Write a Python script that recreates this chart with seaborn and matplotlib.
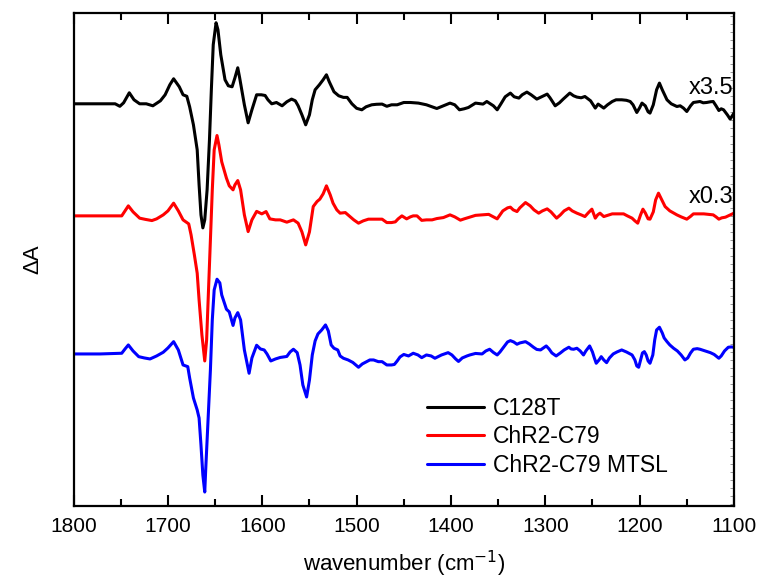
import numpy as np
import pandas as pd
import matplotlib
matplotlib.use('Agg')
import matplotlib.pyplot as plt
import seaborn as sns
from matplotlib.ticker import MultipleLocator

# ------------------------------------------------------------
# data (wavenumber in cm-1, dA in a.u.,
# each trace relative to its own baseline)
# ------------------------------------------------------------
wn_c128t = [1800, 1772, 1756, 1751, 1747, 1741, 1736, 1730, 1723, 1716, 1708, 1703, 1698, 1694, 1688,
            1684, 1680, 1677, 1673, 1669, 1667, 1665, 1663, 1661, 1658.5, 1656, 1654, 1652, 1649, 1647,
            1644, 1639.5, 1636, 1632, 1629, 1626, 1624, 1619, 1615, 1611, 1606, 1601, 1597, 1594, 1590,
            1585, 1579, 1574, 1569, 1565, 1562, 1558, 1554, 1550, 1547, 1544, 1539.5, 1535.5, 1532, 1529,
            1524, 1519, 1514, 1510, 1505, 1500, 1494.5, 1490, 1484, 1479, 1473, 1468, 1463, 1457, 1450,
            1443, 1434.5, 1426, 1420, 1415, 1408, 1401, 1396, 1391, 1386, 1381.5, 1374, 1366, 1362, 1355,
            1351, 1347, 1342.5, 1337, 1333, 1328, 1324.5, 1319.5, 1315, 1309, 1304, 1298, 1295, 1289.5, 1285,
            1281, 1274, 1270, 1266.5, 1262, 1258, 1252, 1247, 1244, 1238, 1234, 1229, 1225, 1219, 1214,
            1210, 1207, 1203, 1200, 1197.5, 1194, 1191, 1189, 1185.5, 1182, 1179, 1176, 1171, 1166.5, 1160.5,
            1157, 1153.5, 1150, 1146, 1143, 1136, 1132.6, 1129, 1125, 1122, 1119, 1116, 1113.5, 1111, 1107,
            1104, 1100]
da_c128t = [0, 0, 0, -0.025, 0.01, 0.11, 0.04, 0, 0, -0.02, 0.03, 0.09, 0.19, 0.25, 0.17,
            0.09, 0.075, -0.03, -0.21, -0.46, -0.81, -1.11, -1.24, -1.16, -0.86, -0.36, 0.14, 0.59, 0.81, 0.74,
            0.49, 0.24, 0.18, 0.17, 0.26, 0.36, 0.26, -0.01, -0.19, -0.06, 0.09, 0.09, 0.083, 0.04, 0,
            0.013, -0.02, 0.02, 0.047, 0.03, -0.02, -0.11, -0.21, -0.11, 0.04, 0.14, 0.19, 0.24, 0.29, 0.22,
            0.12, 0.08, 0.064, 0.064, 0, -0.045, -0.06, -0.03, -0.01, -0.005, -0.003, -0.025, -0.01, -0.01, 0.013,
            0.013, 0.007, -0.01, -0.03, -0.047, -0.02, 0.007, -0.01, -0.06, -0.05, -0.037, 0.007, -0.003, 0.023, -0.02,
            -0.06, 0, 0.07, 0.107, 0.07, 0.057, 0.09, 0.117, 0.09, 0.047, 0.07, 0.097, 0.06, -0.02, 0.01,
            0.047, 0.107, 0.08, 0.067, 0.06, 0.073, 0.03, -0.043, -0.003, -0.043, -0.01, 0.023, 0.04, 0.04, 0.035,
            0.023, -0.01, -0.087, -0.04, 0.007, -0.02, -0.08, -0.093, -0.01, 0.14, 0.207, 0.14, 0.04, 0, -0.027,
            -0.02, -0.043, -0.077, -0.02, 0.013, 0.023, 0.01, 0.013, 0.02, 0.023, -0.02, -0.067, -0.05, -0.06, -0.11,
            -0.153, -0.093]

wn_c79 = [1800, 1772, 1749, 1745.5, 1742, 1737, 1730, 1724, 1717, 1712, 1705, 1700, 1694, 1689, 1684,
          1678, 1675.5, 1672, 1669, 1667, 1664, 1661, 1659, 1657, 1655, 1653, 1651, 1648, 1646, 1643,
          1638, 1635, 1631, 1629, 1626, 1623, 1619, 1615, 1611, 1606, 1600.5, 1596, 1592, 1586, 1581,
          1574, 1567, 1562, 1558, 1554, 1550, 1546, 1542, 1539, 1535.5, 1532, 1528, 1525, 1521, 1517.5,
          1512, 1508, 1503, 1498, 1493, 1487.5, 1480, 1473, 1468, 1463, 1459, 1456, 1452, 1449.6, 1447,
          1443, 1440, 1436, 1431, 1426, 1420, 1415, 1408, 1401, 1396, 1390, 1386, 1381.5, 1374, 1367,
          1360, 1355, 1351, 1348, 1345, 1340, 1337, 1334, 1330, 1327, 1321, 1316, 1312, 1307, 1303,
          1298, 1294, 1288, 1284, 1280, 1275, 1271.5, 1266.5, 1262, 1258, 1254.5, 1250.6, 1247, 1244.5, 1242,
          1238, 1234, 1229, 1224, 1217, 1213, 1208, 1205, 1202, 1199, 1196.5, 1194, 1191, 1189, 1185.5,
          1183, 1180, 1177, 1173, 1168, 1160.5, 1156, 1150, 1146, 1143, 1138, 1132, 1127, 1122, 1119,
          1116, 1113, 1109, 1105, 1100]
da_c79 = [0, 0, 0, 0.05, 0.10, 0.04, -0.023, -0.035, -0.047, -0.03, 0.01, 0.05, 0.127, 0.05, -0.04,
          -0.08, -0.19, -0.39, -0.573, -0.84, -1.19, -1.45, -1.24, -0.74, -0.24, 0.26, 0.66, 0.803, 0.71, 0.54,
          0.377, 0.30, 0.26, 0.31, 0.353, 0.26, 0.01, -0.157, -0.04, 0.045, 0.02, 0.043, -0.03, -0.04, -0.04,
          -0.063, -0.04, -0.073, -0.16, -0.29, -0.16, 0.093, 0.143, 0.167, 0.22, 0.30, 0.21, 0.127, 0.06, 0.027,
          0.033, 0, -0.04, -0.073, -0.05, -0.033, -0.033, -0.033, -0.067, -0.067, -0.06, -0.03, 0, -0.015, -0.03,
          -0.01, 0, 0, -0.045, -0.04, -0.04, -0.027, -0.017, 0.01, -0.01, -0.043, -0.03, -0.017, 0.005, 0.01,
          0.015, -0.01, -0.03, 0.01, 0.05, 0.08, 0.087, 0.06, 0.043, 0.08, 0.133, 0.10, 0.06, 0.027, 0.05,
          0.07, 0.04, -0.023, 0.01, 0.05, 0.077, 0.05, 0.027, 0.01, -0.007, 0.03, 0.067, -0.023, 0.01, 0.027,
          -0.007, 0.005, 0.02, 0.02, 0.02, 0, -0.023, -0.05, -0.073, 0.01, 0.067, 0.03, -0.03, -0.033, 0.04,
          0.16, 0.227, 0.17, 0.093, 0.05, 0.01, -0.01, -0.033, -0.005, 0.02, 0.02, 0.02, 0.015, 0.01, -0.01,
          -0.033, -0.02, -0.013, 0.005, 0.027]

wn_mtsl = [1800, 1772, 1749, 1745.5, 1742, 1737, 1731, 1725, 1719, 1712, 1705, 1700, 1694, 1689, 1684,
           1679, 1677, 1673, 1669, 1667, 1665, 1663, 1661, 1660, 1657.5, 1655, 1653, 1651, 1648, 1645,
           1643, 1638, 1635, 1631, 1629, 1626, 1623, 1619, 1614, 1611, 1606, 1602, 1598, 1595, 1591,
           1586, 1581, 1574, 1570.5, 1567, 1563, 1560, 1557, 1553, 1550, 1547, 1544, 1541, 1537, 1533,
           1530, 1527, 1524, 1520, 1517.5, 1514, 1509, 1504, 1498, 1494, 1489, 1486, 1482, 1477, 1473,
           1468, 1463, 1460, 1457, 1454, 1450, 1445, 1440, 1435, 1431, 1426, 1421, 1417, 1410, 1403,
           1399, 1395, 1392, 1388, 1383, 1380, 1374, 1367, 1363, 1359, 1355, 1351, 1348, 1344, 1340,
           1337, 1333.5, 1330, 1327, 1321, 1317, 1312.5, 1309, 1305, 1302, 1299, 1296, 1293, 1288.5, 1284,
           1280, 1275, 1272.6, 1270, 1266.5, 1263, 1259.5, 1257, 1253, 1250, 1248, 1246, 1243, 1240.7, 1238,
           1235, 1232, 1228, 1224, 1219, 1214, 1208, 1205, 1203, 1201, 1199, 1197, 1195, 1193, 1191,
           1189, 1186, 1184, 1182, 1179, 1176, 1174, 1171, 1168, 1164, 1160, 1156, 1152, 1149, 1146,
           1143, 1139, 1136, 1130.5, 1125, 1121, 1116, 1113.5, 1110, 1106, 1103, 1100]
da_mtsl = [0, 0, 0.007, 0.05, 0.09, 0.03, -0.027, -0.04, -0.05, -0.02, 0.017, 0.06, 0.123, 0.04, -0.11,
           -0.127, -0.24, -0.44, -0.56, -0.64, -0.91, -1.21, -1.38, -1.16, -0.66, -0.16, 0.34, 0.64, 0.747, 0.71,
           0.59, 0.447, 0.42, 0.285, 0.36, 0.413, 0.34, 0.04, -0.193, -0.04, 0.087, 0.05, 0.04, 0, -0.07,
           -0.05, -0.035, -0.025, 0.02, 0.047, 0.013, -0.11, -0.31, -0.43, -0.26, -0.01, 0.13, 0.20, 0.24, 0.29,
           0.23, 0.09, 0.057, 0.04, -0.02, -0.043, -0.06, -0.085, -0.133, -0.10, -0.075, -0.06, -0.06, -0.077, -0.077,
           -0.11, -0.11, -0.105, -0.07, -0.03, -0.005, -0.02, 0.007, -0.01, -0.037, -0.01, -0.02, -0.043, -0.01, 0.013,
           -0.01, -0.05, -0.075, -0.04, -0.02, -0.01, 0.005, 0, 0.03, 0.047, 0.015, -0.01, 0.02, 0.07, 0.12,
           0.133, 0.12, 0.097, 0.11, 0.123, 0.10, 0.067, 0.045, 0.04, 0.06, 0.08, 0.05, 0.01, -0.02, 0.01,
           0.04, 0.067, 0.05, 0.047, 0.057, 0.03, -0.01, 0.03, 0.08, 0.02, -0.04, -0.093, -0.06, -0.027, -0.06,
           -0.087, -0.04, 0, 0.02, 0.04, 0.02, -0.01, -0.06, -0.12, -0.133, -0.06, 0.01, 0.023, -0.01, -0.07,
           -0.093, -0.01, 0.14, 0.24, 0.267, 0.21, 0.16, 0.123, 0.09, 0.057, 0.03, -0.01, -0.06, -0.04, 0.01,
           0.047, 0.053, 0.047, 0.03, 0.013, -0.005, -0.043, -0.02, 0.03, 0.067, 0.07, 0.067]

labels = ['C128T', 'ChR2-C79', 'ChR2-C79 MTSL']
offsets = [0.0, -1.12, -2.50]
scale_text = ['x3.5', 'x0.3']
colors = ['black', 'red', 'blue']

# long-form table, traces stacked with their offsets
frames = []
for lab, wn, da, off in zip(labels, [wn_c128t, wn_c79, wn_mtsl],
                            [da_c128t, da_c79, da_mtsl], offsets):
    frames.append(pd.DataFrame({'wavenumber': wn,
                                'dA': np.array(da) + off,
                                'sample': lab}))
df = pd.concat(frames, ignore_index=True)

sns.set_style('ticks', {'axes.edgecolor': 'black', 'text.color': 'black',
                        'axes.labelcolor': 'black', 'xtick.color': 'black',
                        'ytick.color': '#888888'})
plt.rcParams['font.family'] = ['Liberation Sans', 'DejaVu Sans']

fig = plt.figure(figsize=(7.59, 5.79), dpi=100)
ax = fig.add_axes([0.097, 0.126, 0.870, 0.852])

sns.lineplot(data=df, x='wavenumber', y='dA', hue='sample',
             palette=dict(zip(labels, colors)), hue_order=labels,
             estimator=None, sort=False, linewidth=2.2, ax=ax)
for ln in ax.get_lines():
    ln.set_solid_joinstyle('round')

ax.set_xlim(1800, 1100)
ax.set_ylim(-4.02, 0.91)

ax.xaxis.set_major_locator(MultipleLocator(100))
ax.xaxis.set_minor_locator(MultipleLocator(50))
ax.tick_params(axis='x', which='major', direction='in', length=8, width=1.5,
               top=True, labelsize=15, pad=8)
ax.tick_params(axis='x', which='minor', direction='in', length=5, width=1.5, top=True)
ax.yaxis.set_major_locator(MultipleLocator(0.08))
ax.tick_params(axis='y', which='major', direction='in', length=3, width=0.6,
               left=False, right=True, labelleft=False)
for sp in ax.spines.values():
    sp.set_linewidth(1.6)

ax.set_xlabel('wavenumber (cm$^{-1}$)', fontsize=16, labelpad=9)
ax.set_ylabel('ΔA', fontsize=16, labelpad=22)

# scaling factors next to the right end of the traces
ax.text(1101, 0.16, scale_text[0], ha='right', va='center', fontsize=17)
ax.text(1101, offsets[1] + 0.19, scale_text[1], ha='right', va='center', fontsize=17)

ax.legend(loc='upper left', bbox_to_anchor=(0.535, 0.222), frameon=False,
          fontsize=16.5, handlelength=2.5, handletextpad=0.4, labelspacing=0.25,
          borderpad=0, borderaxespad=0)

fig.savefig('out.png', dpi=100)
